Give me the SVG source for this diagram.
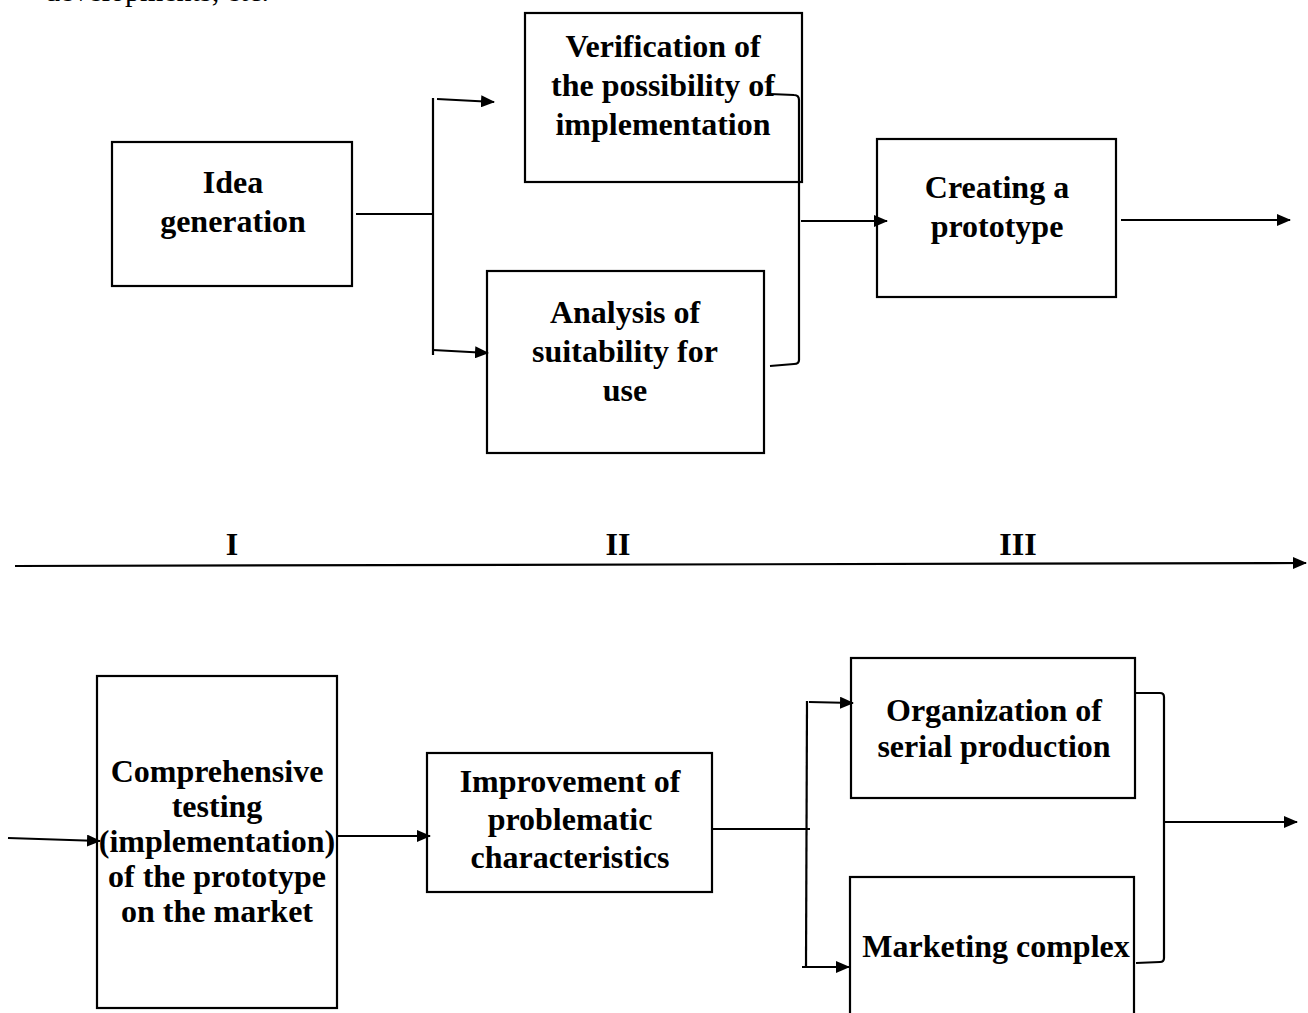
<svg xmlns="http://www.w3.org/2000/svg" width="1308" height="1013" viewBox="0 0 1308 1013">
<style>
.box{fill:#fff;stroke:#000;stroke-width:2.2}
.lbl{font-family:"Liberation Serif","Times New Roman",serif;font-weight:bold;font-size:32px;fill:#000;text-anchor:middle}
.top{font-family:"Liberation Serif","Times New Roman",serif;font-size:30px;fill:#000}
.ln{fill:none;stroke:#000;stroke-width:2.2}
.arr{fill:none;stroke:#000;stroke-width:2.2;marker-end:url(#ah)}
</style>
<defs>
<marker id="ah" markerUnits="userSpaceOnUse" markerWidth="14" markerHeight="12" viewBox="0 0 14 12" refX="13" refY="6" orient="auto">
<path d="M0,0 L14,6 L0,12 z" fill="#000"/>
</marker>
</defs>
<rect width="1308" height="1013" fill="#fff"/>
<text class="top" x="45" y="1">developments, etc.</text>

<g id="node-idea">
<rect class="box" x="112" y="142" width="240" height="144"/>
<text class="lbl" x="233" y="193">Idea</text>
<text class="lbl" x="233" y="232">generation</text>
</g>
<g id="node-verification">
<rect class="box" x="525" y="13" width="277" height="169"/>
<text class="lbl" x="663" y="57">Verification of</text>
<text class="lbl" x="663" y="96">the possibility of</text>
<text class="lbl" x="663" y="135">implementation</text>
</g>
<g id="node-analysis">
<rect class="box" x="487" y="271" width="277" height="182"/>
<text class="lbl" x="625" y="323">Analysis of</text>
<text class="lbl" x="625" y="362">suitability for</text>
<text class="lbl" x="625" y="401">use</text>
</g>
<g id="node-prototype">
<rect class="box" x="877" y="139" width="239" height="158"/>
<text class="lbl" x="997" y="198">Creating a</text>
<text class="lbl" x="997" y="237">prototype</text>
</g>
<g id="axis">
<text class="lbl" x="232" y="555">I</text>
<text class="lbl" x="618" y="555">II</text>
<text class="lbl" x="1018" y="555">III</text>
</g>
<g id="node-testing">
<rect class="box" x="97" y="676" width="240" height="332"/>
<text class="lbl" x="217" y="782">Comprehensive</text>
<text class="lbl" x="217" y="817">testing</text>
<text class="lbl" x="217" y="852">(implementation)</text>
<text class="lbl" x="217" y="887">of the prototype</text>
<text class="lbl" x="217" y="922">on the market</text>
</g>
<g id="node-improvement">
<rect class="box" x="427" y="753" width="285" height="139"/>
<text class="lbl" x="570" y="792">Improvement of</text>
<text class="lbl" x="570" y="830">problematic</text>
<text class="lbl" x="570" y="868">characteristics</text>
</g>
<g id="node-organization">
<rect class="box" x="851" y="658" width="284" height="140"/>
<text class="lbl" x="994" y="721">Organization of</text>
<text class="lbl" x="994" y="757">serial production</text>
</g>
<g id="node-marketing">
<rect class="box" x="850" y="877" width="284" height="150"/>
<text class="lbl" x="996" y="957">Marketing complex</text>
</g>

<g id="connectors">
<path class="ln" d="M356,214 L433,214"/>
<path class="ln" d="M433,98 L433,355"/>
<path class="arr" d="M437,99 L494,102"/>
<path class="arr" d="M433,350 L488,353"/>
<path class="ln" d="M770,94 L794,95 Q799,95 799,100 L799,360 Q799,364 794,364 L770,366"/>
<path class="arr" d="M801,221 L887,221"/>
<path class="arr" d="M1121,220 L1290,220"/>
<path class="arr" d="M15,566 L1306,563"/>
<path class="arr" d="M8,838 L100,841"/>
<path class="arr" d="M337,836 L430,836"/>
<path class="ln" d="M711,829 L810,829"/>
<path class="ln" d="M807,701 L806,968"/>
<path class="arr" d="M809,702 L853,703"/>
<path class="arr" d="M802,967 L849,967"/>
<path class="ln" d="M1136,693 L1160,693 Q1164,693 1164,697 L1164,958 Q1164,962 1160,962 L1136,963"/>
<path class="arr" d="M1164,822 L1297,822"/>
</g>
</svg>
